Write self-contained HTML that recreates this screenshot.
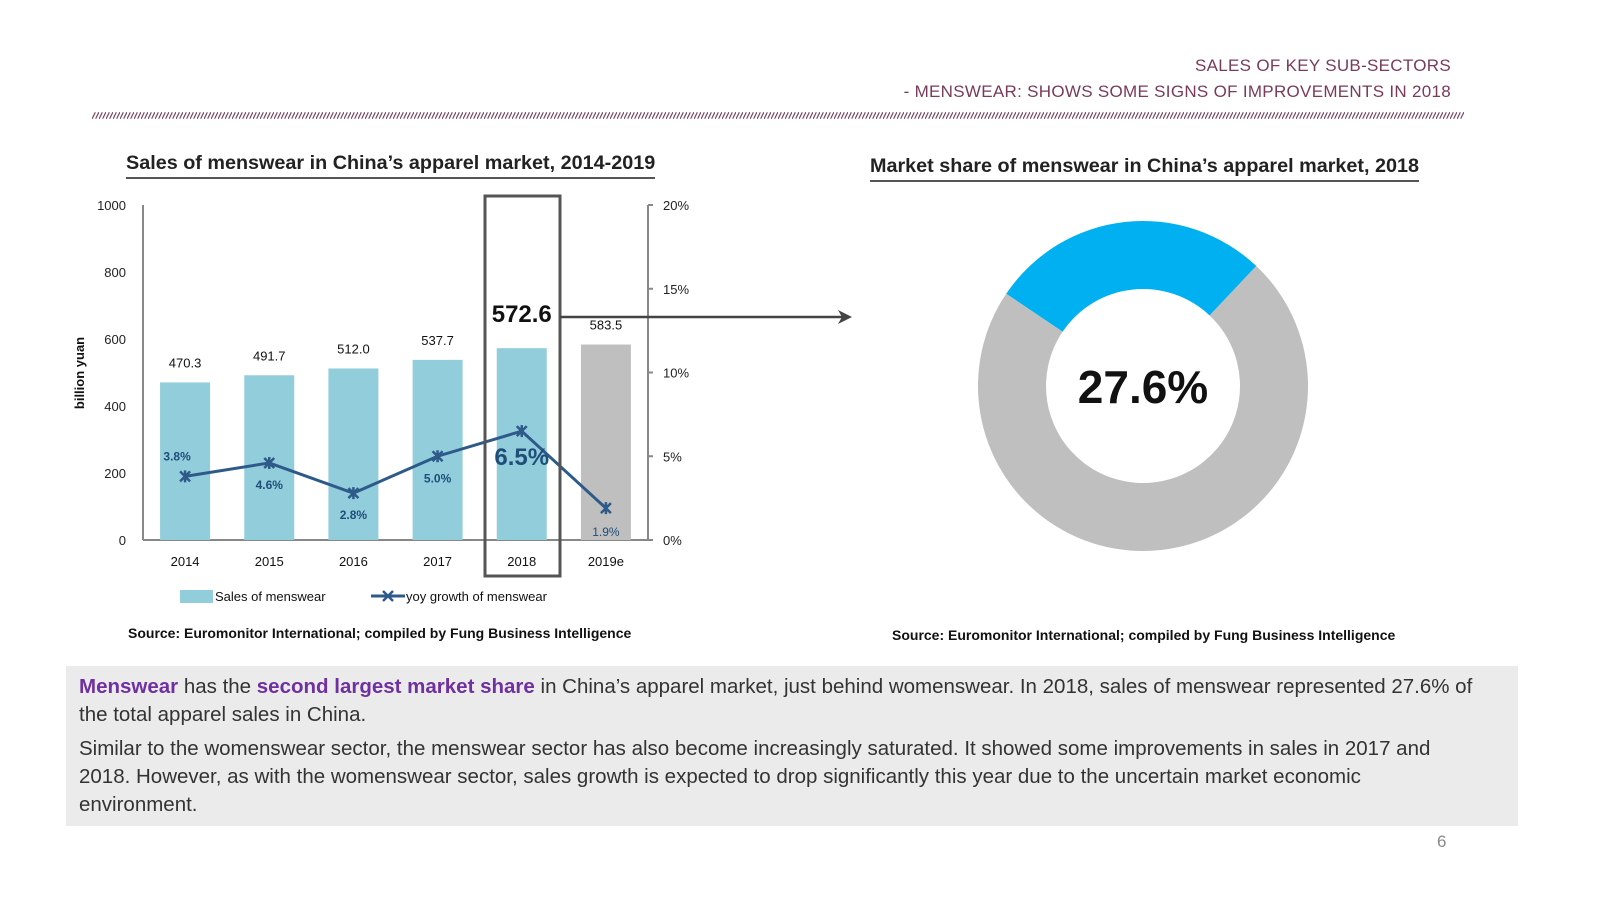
<!DOCTYPE html>
<html><head><meta charset="utf-8"><style>
body{margin:0;background:#fff;font-family:"Liberation Sans",sans-serif;}
#page{position:relative;width:1600px;height:900px;overflow:hidden;background:#fff;}
.hdr{position:absolute;right:149px;color:#7a3a5a;font-size:17px;letter-spacing:0.3px;}
.title{position:absolute;font-weight:bold;font-size:19.8px;color:#222;border-bottom:2px solid #555;padding-bottom:2px;}
.src{position:absolute;font-size:14px;font-weight:bold;color:#111;}
#textbox{position:absolute;left:66px;top:666px;width:1452px;height:160px;background:#ebebeb;}
#textbox p{margin:0;position:absolute;left:13px;font-size:20.5px;line-height:28px;color:#333;white-space:nowrap;}
.hl{color:#7030a0;font-weight:bold;}
</style></head><body>
<div id="page">
<div class="hdr" style="top:56px">SALES OF KEY SUB-SECTORS</div>
<div class="hdr" style="top:82px">- MENSWEAR: SHOWS SOME SIGNS OF IMPROVEMENTS IN 2018</div>
<svg style="position:absolute;left:92px;top:112px" width="1372" height="7">
<defs><pattern id="hatch" width="3.5" height="7" patternUnits="userSpaceOnUse"><line x1="0" y1="7" x2="3.5" y2="0" stroke="#7a4a60" stroke-width="1.2"/></pattern></defs>
<rect width="1372" height="7" fill="url(#hatch)"/></svg>

<div class="title" style="left:126px;top:152px">Sales of menswear in China’s apparel market, 2014-2019</div>
<div class="title" style="left:870px;top:155px">Market share of menswear in China’s apparel market, 2018</div>

<svg id="chart" style="position:absolute;left:0;top:0" width="900" height="620"></svg>
<svg id="donut" style="position:absolute;left:960px;top:200px" width="370" height="370"></svg>

<div class="src" style="left:128px;top:625px">Source: Euromonitor International; compiled by Fung Business Intelligence</div>
<div class="src" style="left:892px;top:627px">Source: Euromonitor International; compiled by Fung Business Intelligence</div>

<div id="textbox">
<p style="top:7px"><span class="hl">Menswear</span> has the <span class="hl">second largest market share</span> in China’s apparel market, just behind womenswear. In 2018, sales of menswear represented 27.6% of<br>the total apparel sales in China.</p>
<p style="top:69px">Similar to the womenswear sector, the menswear sector has also become increasingly saturated. It showed some improvements in sales in 2017 and<br>2018. However, as with the womenswear sector, sales growth is expected to drop significantly this year due to the uncertain market economic<br>environment.</p>
</div>
<div style="position:absolute;left:1437px;top:832px;font-size:17px;color:#888">6</div>
</div>
<script>
const categories=["2014","2015","2016","2017","2018","2019e"];
const sales=[470.3,491.7,512.0,537.7,572.6,583.5];
const growth=[3.8,4.6,2.8,5.0,6.5,1.9];
const leftTicks=[0,200,400,600,800,1000];
const rightTicks=[0,5,10,15,20];
const shareValue=[27.6];
const NS="http://www.w3.org/2000/svg";
const svg=document.getElementById('chart');
function mk(t,a,p){const e=document.createElementNS(NS,t);for(const k in a)e.setAttribute(k,a[k]);(p||svg).appendChild(e);return e;}
const x0=143,x1=648,yB=540,yT=205;
const bw=(x1-x0)/categories.length;
const yL=v=>yB-(v/1000)*(yB-yT);
const yR=v=>yB-(v/20)*(yB-yT);
const xc=i=>x0+bw*(i+0.5);
const F='"Liberation Sans",sans-serif';
let e=mk('line',{x1:x0,y1:yT,x2:x0,y2:yB,stroke:'#888','stroke-width':2});

e=mk('line',{x1:x1,y1:yT,x2:x1,y2:yB,stroke:'#888','stroke-width':2});

e=mk('line',{x1:x0,y1:yB,x2:x1,y2:yB,stroke:'#888','stroke-width':2});

leftTicks.forEach(v=>{const t=mk('text',{x:126,y:yL(v)+5,'text-anchor':'end','font-size':13,'font-family':F,fill:'#222'});t.textContent=v;
});
rightTicks.forEach(v=>{mk('line',{x1:x1,y1:yR(v),x2:x1+5,y2:yR(v),stroke:'#888','stroke-width':2});
const t=mk('text',{x:663,y:yR(v)+5,'font-size':13,'font-family':F,fill:'#222'});t.textContent=v+'%';
});
e=mk('text',{transform:'translate(84,373) rotate(-90)','text-anchor':'middle','font-size':13,'font-weight':'bold','font-family':F,fill:'#111'});e.textContent='billion yuan';

sales.forEach((v,i)=>{const last=i===sales.length-1;
const r=mk('rect',{x:xc(i)-25,y:yL(v),width:50,height:yB-yL(v),fill:last?'#bfbfbf':'#92cddc'});

const big=i===4;
const t=mk('text',{x:xc(i),y:yL(v)-(big?26:15),'text-anchor':'middle','font-size':big?24:13,'font-weight':big?'bold':'normal','font-family':F,fill:'#111'});
t.textContent=v.toFixed(1);
const c=mk('text',{x:xc(i),y:566,'text-anchor':'middle','font-size':13,'font-family':F,fill:'#111'});c.textContent=categories[i];
});
const pts=growth.map((g,i)=>xc(i)+','+yR(g)).join(' ');
e=mk('polyline',{points:pts,fill:'none',stroke:'#2e5a8a','stroke-width':3});

const lblDy=[-16,26,26,26,34,28];
const lblDx=[-8,0,0,0,0,0];
growth.forEach((g,i)=>{const x=xc(i),y=yR(g);
const m=mk('path',{d:`M${x-5},${y-5}L${x+5},${y+5}M${x-5},${y+5}L${x+5},${y-5}M${x},${y-6}L${x},${y+6}`,stroke:'#2e5a8a','stroke-width':2.5});

const big=i===4;
const t=mk('text',{x:x+lblDx[i],y:y+lblDy[i],'text-anchor':'middle','font-size':big?24:12,'font-weight':(i===5)?'normal':'bold','font-family':F,fill:'#1f4e79'});
t.textContent=g.toFixed(1)+'%';});
e=mk('rect',{x:485,y:196,width:75,height:380,fill:'none',stroke:'#555','stroke-width':3});

e=mk('path',{d:'M560,317H848',stroke:'#444','stroke-width':2.5,fill:'none'});

mk('path',{d:'M838,310L852,317L838,324L842,317Z',fill:'#444'});
e=mk('rect',{x:180,y:590,width:33,height:13,fill:'#92cddc'});
e=mk('text',{x:215,y:601,'font-size':13,'font-family':F,fill:'#111'});e.textContent='Sales of menswear';
mk('line',{x1:371,y1:596,x2:405,y2:596,stroke:'#2e5a8a','stroke-width':3});
mk('path',{d:'M383,591L393,601M383,601L393,591',stroke:'#2e5a8a','stroke-width':2.5});
e=mk('text',{x:406,y:601,'font-size':13,'font-family':F,fill:'#111'});e.textContent='yoy growth of menswear';
const d=document.getElementById('donut');
const cx=183,cy=186,R=165,r=97;
const start=-56*Math.PI/180, frac=shareValue[0]/100;
function arc(a0,a1,col,name){const p=(a,rr)=>[cx+rr*Math.sin(a),cy-rr*Math.cos(a)];
const large=(a1-a0)>Math.PI?1:0;const [x1a,y1a]=p(a0,R),[x2a,y2a]=p(a1,R),[x3,y3]=p(a1,r),[x4,y4]=p(a0,r);
const el=mk('path',{d:`M${x1a},${y1a}A${R},${R} 0 ${large} 1 ${x2a},${y2a}L${x3},${y3}A${r},${r} 0 ${large} 0 ${x4},${y4}Z`,fill:col},d);
}
const a1=start+frac*2*Math.PI;
arc(start,a1,'#00b0f0','donut-menswear-slice');
arc(a1,start+2*Math.PI,'#bfbfbf','donut-other-slice');
e=mk('text',{x:cx,y:cy+17,'text-anchor':'middle','font-size':46,'font-weight':'bold','font-family':F,fill:'#111'},d);
e.textContent=shareValue[0].toFixed(1)+'%';
</script>
</body></html>
